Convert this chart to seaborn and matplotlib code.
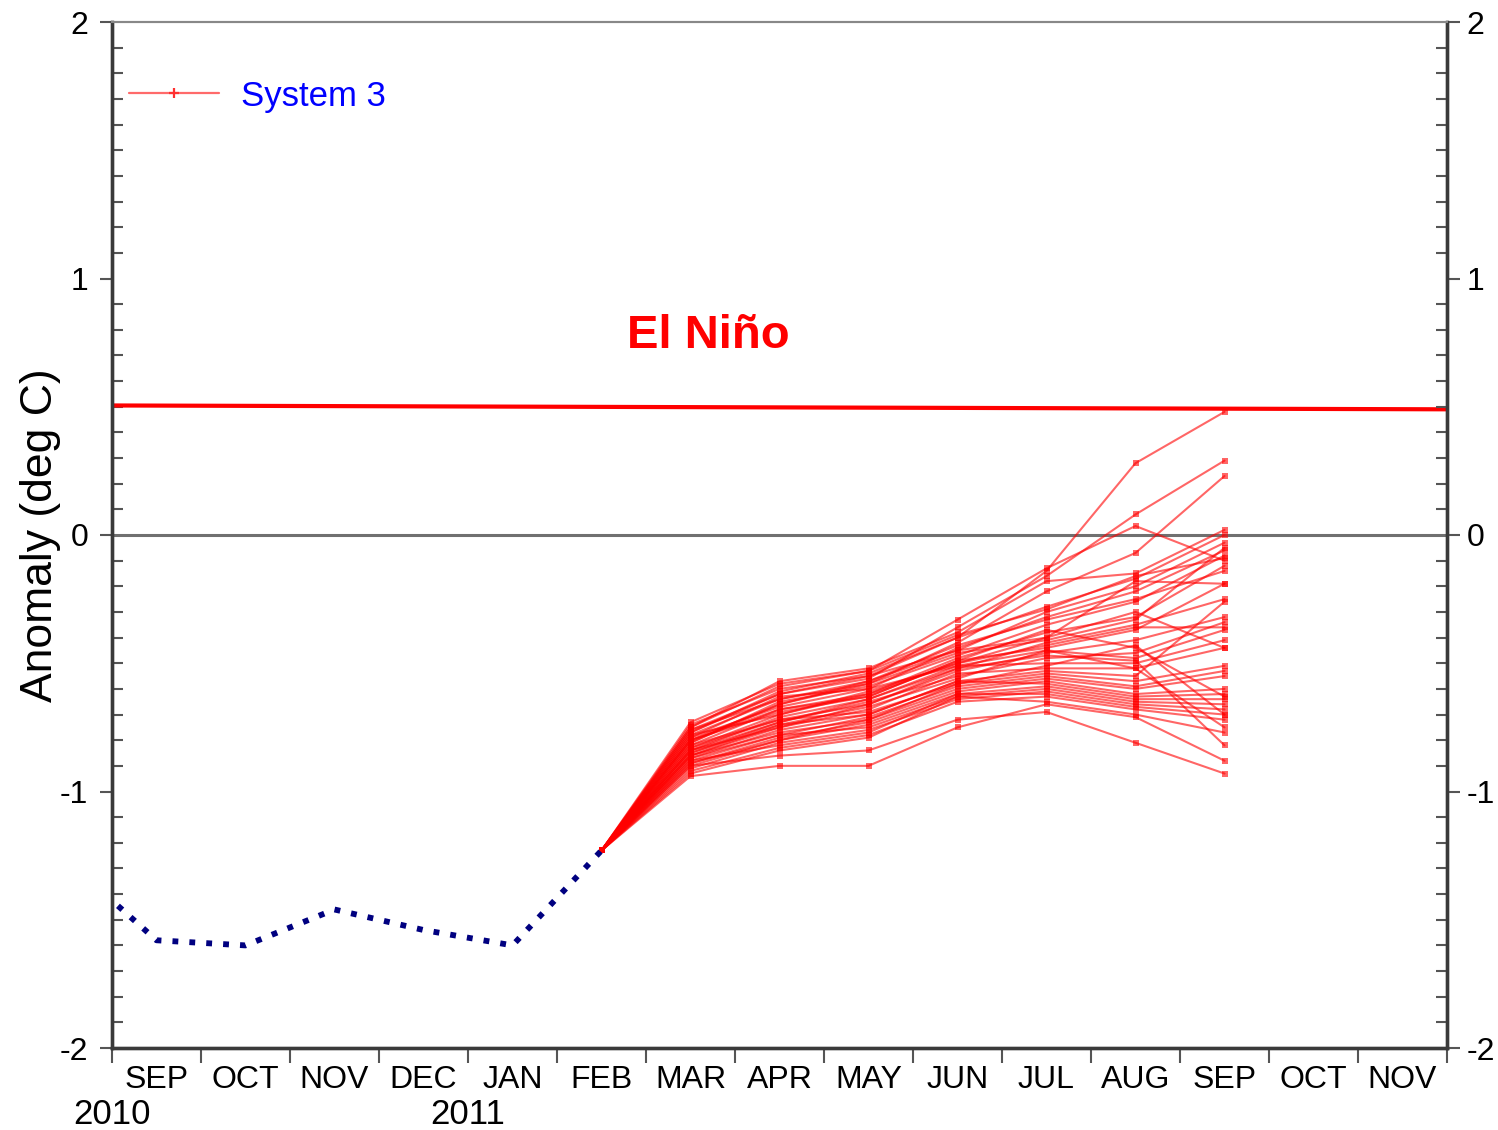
import numpy as np
import pandas as pd
import seaborn as sns
import matplotlib.pyplot as plt
import matplotlib.transforms as mtransforms
from matplotlib.ticker import MultipleLocator

# months shown along the x axis (one slot per month)
axis_months = ['2010-09', '2010-10', '2010-11', '2010-12', '2011-01', '2011-02', '2011-03',
               '2011-04', '2011-05', '2011-06', '2011-07', '2011-08', '2011-09', '2011-10', '2011-11']
month_labels = ['SEP', 'OCT', 'NOV', 'DEC', 'JAN', 'FEB', 'MAR',
                'APR', 'MAY', 'JUN', 'JUL', 'AUG', 'SEP', 'OCT', 'NOV']
year_labels = {'2010': '2010-09', '2011': '2011-01'}

# observed anomaly (navy dotted)
obs_months = ['2010-08', '2010-09', '2010-10', '2010-11', '2010-12', '2011-01', '2011-02']
obs_values = [-1.27, -1.58, -1.60, -1.46, -1.54, -1.60, -1.23]

# System 3 ensemble, all members start from the Feb analysis
fc_months = ['2011-02', '2011-03', '2011-04', '2011-05', '2011-06', '2011-07', '2011-08', '2011-09']
fc_start = -1.23
# each member: Mar, Apr, May, Jun, Jul, Aug, Sep
members = [
    [-0.74, -0.60, -0.55, -0.40, -0.14, 0.28, 0.48],
    [-0.76, -0.62, -0.56, -0.36, -0.16, 0.08, 0.29],
    [-0.78, -0.64, -0.58, -0.42, -0.22, -0.07, 0.23],
    [-0.73, -0.58, -0.53, -0.33, -0.13, 0.035, -0.10],
    [-0.75, -0.57, -0.52, -0.38, -0.18, -0.15, 0.02],
    [-0.77, -0.61, -0.54, -0.40, -0.28, -0.17, 0.00],
    [-0.80, -0.66, -0.57, -0.45, -0.30, -0.20, -0.03],
    [-0.79, -0.63, -0.60, -0.44, -0.32, -0.22, -0.06],
    [-0.81, -0.65, -0.59, -0.47, -0.35, -0.26, -0.08],
    [-0.82, -0.68, -0.62, -0.48, -0.38, -0.32, -0.12],
    [-0.78, -0.70, -0.61, -0.50, -0.40, -0.18, -0.19],
    [-0.84, -0.71, -0.64, -0.52, -0.42, -0.35, -0.25],
    [-0.80, -0.69, -0.63, -0.49, -0.44, -0.37, -0.19],
    [-0.83, -0.72, -0.66, -0.53, -0.46, -0.41, -0.32],
    [-0.85, -0.73, -0.65, -0.55, -0.48, -0.46, -0.34],
    [-0.86, -0.74, -0.67, -0.56, -0.45, -0.48, -0.37],
    [-0.79, -0.67, -0.60, -0.51, -0.50, -0.50, -0.41],
    [-0.84, -0.75, -0.68, -0.54, -0.52, -0.52, -0.44],
    [-0.87, -0.76, -0.70, -0.57, -0.53, -0.55, -0.26],
    [-0.82, -0.72, -0.69, -0.58, -0.54, -0.57, -0.51],
    [-0.88, -0.78, -0.71, -0.59, -0.55, -0.59, -0.53],
    [-0.86, -0.77, -0.72, -0.60, -0.56, -0.60, -0.55],
    [-0.89, -0.79, -0.73, -0.61, -0.57, -0.62, -0.60],
    [-0.85, -0.74, -0.70, -0.57, -0.58, -0.63, -0.62],
    [-0.90, -0.80, -0.74, -0.62, -0.59, -0.64, -0.64],
    [-0.87, -0.78, -0.75, -0.63, -0.60, -0.65, -0.66],
    [-0.91, -0.81, -0.76, -0.64, -0.61, -0.66, -0.68],
    [-0.88, -0.82, -0.77, -0.62, -0.62, -0.67, -0.70],
    [-0.92, -0.83, -0.78, -0.65, -0.63, -0.68, -0.72],
    [-0.93, -0.84, -0.79, -0.63, -0.65, -0.70, -0.77],
    [-0.90, -0.86, -0.84, -0.72, -0.69, -0.81, -0.93],
    [-0.94, -0.90, -0.90, -0.75, -0.66, -0.71, -0.88],
    [-0.77, -0.62, -0.55, -0.45, -0.40, -0.30, -0.44],
    [-0.81, -0.66, -0.58, -0.46, -0.41, -0.33, -0.05],
    [-0.83, -0.70, -0.62, -0.50, -0.43, -0.36, -0.36],
    [-0.75, -0.59, -0.53, -0.39, -0.29, -0.16, -0.09],
    [-0.86, -0.75, -0.66, -0.52, -0.47, -0.49, -0.82],
    [-0.84, -0.73, -0.64, -0.51, -0.45, -0.52, -0.75],
    [-0.89, -0.80, -0.72, -0.58, -0.51, -0.43, -0.70],
    [-0.80, -0.68, -0.63, -0.49, -0.37, -0.44, -0.63],
    [-0.76, -0.64, -0.57, -0.43, -0.33, -0.25, -0.14],
]

# El Nino threshold line (left end, right end)
elnino_threshold = [0.505, 0.49]

first = pd.Period(axis_months[0], freq='M')


def month_pos(m):
    # month slot centre: Sep 2010 -> 0.5
    return (pd.Period(m, freq='M') - first).n + 0.5


sns.set_style('ticks')
plt.rcParams['font.family'] = ['Liberation Sans', 'DejaVu Sans']
plt.rcParams['axes.unicode_minus'] = False
plt.rcParams['text.color'] = 'black'
plt.rcParams['axes.labelcolor'] = 'black'
plt.rcParams['xtick.labelcolor'] = 'black'
plt.rcParams['ytick.labelcolor'] = 'black'

fig = plt.figure(figsize=(14.98, 11.3), dpi=100)
ax = fig.add_axes([112 / 1498, 1 - 1048 / 1130, 1335 / 1498, 1026 / 1130])

n_slots = len(axis_months)

# ensemble
rows = []
for i, mem in enumerate(members):
    for m, v in zip(fc_months, [fc_start] + mem):
        rows.append({'member': i, 'x': month_pos(m), 'anom': v})
fc = pd.DataFrame(rows)
sns.lineplot(data=fc, x='x', y='anom', units='member', estimator=None, color='red',
             lw=1.5, alpha=0.6, marker='s', markersize=4, markeredgewidth=0,
             legend=False, ax=ax)

# observations
obs = pd.DataFrame({'x': [month_pos(m) for m in obs_months], 'anom': obs_values})
sns.lineplot(data=obs, x='x', y='anom', color='#000080', lw=4.2,
             linestyle=(0, (1, 1.9)), ax=ax)

# threshold + zero line
sns.lineplot(x=[0, n_slots], y=elnino_threshold, color='red', lw=3, ax=ax)
ax.axhline(0, color='#707070', lw=2.2, zorder=1)
ax.text(6.7, 0.775, 'El Niño', color='red', fontsize=34, fontweight='bold',
        ha='center', va='center')

# legend
ax.plot([0.0127, 0.080], [0.931, 0.931], transform=ax.transAxes, color='#ff6a6a', lw=1.6)
ax.plot([0.0465], [0.931], transform=ax.transAxes, color='#ff3030', marker='+',
        markersize=7, mew=1.6)
ax.text(0.0964, 0.927, 'System 3', transform=ax.transAxes, color='blue',
        fontsize=25, va='center', ha='left')

ax.set_xlim(0, n_slots)
ax.set_ylim(-2, 2)

# x axis: boundaries as ticks, month names centred
ax.set_xticks(np.arange(n_slots + 1))
ax.set_xticklabels([])
ax.set_xticks(np.arange(n_slots) + 0.5, minor=True)
ax.set_xticklabels(month_labels, minor=True)
ax.tick_params(axis='x', which='major', direction='out', length=11, width=1.5, color='#555555')
ax.tick_params(axis='x', which='minor', length=0, labelsize=23, pad=12)
trans = mtransforms.blended_transform_factory(ax.transData, ax.transAxes)
for lab, m in year_labels.items():
    ax.text(month_pos(m) - 0.5, -0.065, lab, transform=trans, fontsize=25,
            ha='center', va='center')

# y axis, left and right
ax2 = ax.twinx()
ax2.set_ylim(-2, 2)
for a, side in ((ax, 'left'), (ax2, 'right')):
    a.set_yticks([-2, -1, 0, 1, 2])
    a.yaxis.set_minor_locator(MultipleLocator(0.1))
    a.tick_params(axis='y', which='major', direction='out', length=9, width=1.5,
                  color='#555555', labelsize=23, pad=8 if side == 'left' else 5)
    a.tick_params(axis='y', which='minor', direction='in', length=8, width=1.5,
                  color='#555555')
ax.tick_params(axis='y', which='both', left=True, right=False)
ax2.tick_params(axis='y', which='both', left=False, right=True)
ax.set_ylabel('Anomaly (deg C)', fontsize=32)
ax.yaxis.set_label_coords(-0.038, 0.5)
ax.set_xlabel('')

for a in (ax, ax2):
    for s in ('left', 'right', 'bottom'):
        a.spines[s].set_color('#3a3a3a')
        a.spines[s].set_linewidth(2.4)
    a.spines['top'].set_color('#888888')
    a.spines['top'].set_linewidth(1.5)

fig.savefig('out.png', dpi=100)
